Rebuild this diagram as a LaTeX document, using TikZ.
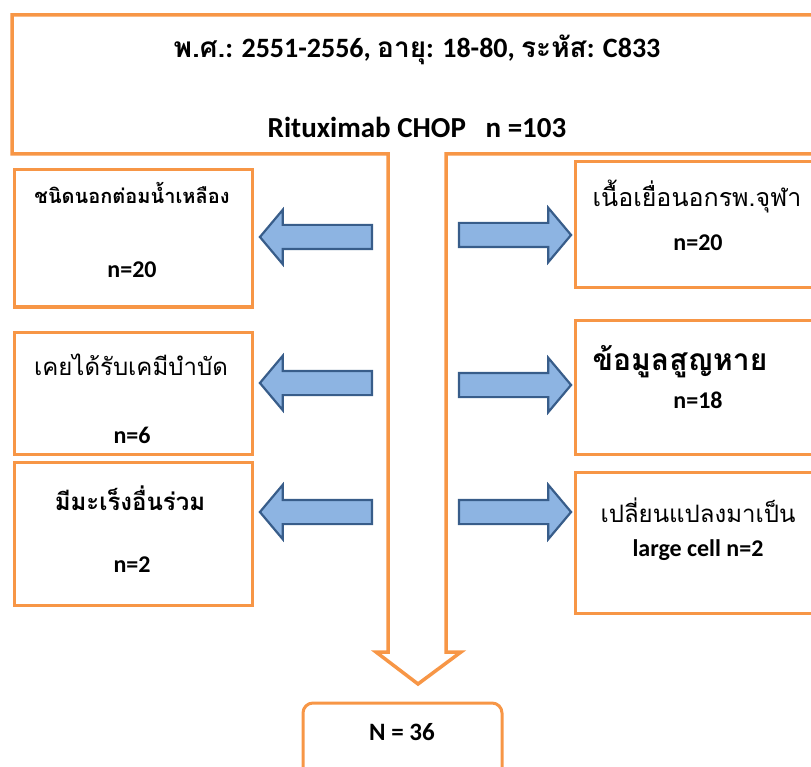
\documentclass[tikz,border=0pt]{standalone}
\usepackage{fontspec}
\setmainfont{Carlito}
\newfontfamily\thaifont[Script=Thai]{Loma}
\usetikzlibrary{shapes.arrows}

\definecolor{boxorange}{RGB}{247,150,70}
\definecolor{arrowfill}{RGB}{141,180,226}
\definecolor{arrowedge}{RGB}{56,93,138}

\tikzset{
  sidebox/.style={draw=boxorange, line width=3pt, inner sep=0pt},
  bluearrow/.style={single arrow, draw=arrowedge, fill=arrowfill, line width=2.2pt,
    inner xsep=0pt, inner ysep=11pt, minimum height=112pt,
    single arrow head extend=15pt, single arrow tip angle=100},
  thaitext/.style={font=\thaifont\fontsize{#1}{#1}\selectfont},
  thaibold/.style={font=\thaifont\bfseries\fontsize{#1}{#1}\selectfont},
  numtext/.style={font=\bfseries\fontsize{24}{28}\selectfont}
}

\begin{document}
\begin{tikzpicture}[x=1pt,y=-1pt]
\useasboundingbox (0,0) rectangle (811,767);

% outline: top box running down into the big arrow
\coordinate (TopL) at (12,15);
\coordinate (TopR) at (822,15);
\coordinate (BotR) at (822,154);
\coordinate (StemR) at (446,154);
\coordinate (HeadR) at (446,652);
\coordinate (WingR) at (461,652);
\coordinate (Tip) at (418,684);
\coordinate (WingL) at (376,652);
\coordinate (HeadL) at (388,652);
\coordinate (StemL) at (388,154);
\coordinate (BotL) at (12,154);
\draw[boxorange, line width=3.5pt, line join=miter]
  (TopL) -- (TopR) -- (BotR) -- (StemR) -- (HeadR) -- (WingR) -- (Tip)
  -- (WingL) -- (HeadL) -- (StemL) -- (BotL) -- cycle;

\node[font=\bfseries\fontsize{28}{32}\selectfont] (head) at (417,50)
  {{\thaifont พ.ศ.}: 2551-2556, {\thaifont อายุ}: 18-80, {\thaifont ระหัส}: C833};
\node[font=\bfseries\fontsize{29}{33}\selectfont] (total) at (417,127)
  {Rituximab CHOP \ \ n =103};

% excluded, left side
\node[sidebox, minimum width=238pt, minimum height=137pt] (exA) at (133,238.5) {};
\node[sidebox, minimum width=238pt, minimum height=122pt] (exB) at (133,393) {};
\node[sidebox, minimum width=238pt, minimum height=143pt] (exC) at (133,533.5) {};
\node[thaibold=20] (exAt) at (132,193) {ชนิดนอกต่อมน้ำเหลือง};
\node[numtext] (exAn) at (132,270) {n=20};
\node[thaitext=24] (exBt) at (131,365) {เคยได้รับเคมีบำบัด};
\node[numtext] (exBn) at (132,435) {n=6};
\node[thaibold=24] (exCt) at (130,498) {มีมะเร็งอื่นร่วม};
\node[numtext] (exCn) at (132,565) {n=2};

% excluded, right side
\node[sidebox, minimum width=245pt, minimum height=126pt] (exD) at (697.5,225) {};
\node[sidebox, minimum width=245pt, minimum height=134pt] (exE) at (697.5,387) {};
\node[sidebox, minimum width=245pt, minimum height=141pt] (exF) at (697.5,542.5) {};
\node[thaitext=25] (exDt) at (697,197) {เนื้อเยื่อนอกรพ.จุฬา};
\node[numtext] (exDn) at (698,243) {n=20};
\node[thaibold=30] (exEt) at (680,362) {ข้อมูลสูญหาย};
\node[numtext] (exEn) at (698,400) {n=18};
\node[thaitext=24] (exFt) at (698,510) {เปลี่ยนแปลงมาเป็น};
\node[numtext] (exFn) at (698,550) {large cell n=2};

% block arrows
\node[bluearrow, shape border rotate=180] (arA) at (321,237) {};
\node[bluearrow, shape border rotate=180] (arB) at (321,383) {};
\node[bluearrow, shape border rotate=180] (arC) at (321,512) {};
\node[bluearrow] (arD) at (510,235) {};
\node[bluearrow] (arE) at (510,385) {};
\node[bluearrow] (arF) at (510,512) {};

% final count
\node[draw=boxorange, line width=3pt, rounded corners=10pt,
  minimum width=199pt, minimum height=84pt] (final) at (402.5,745) {};
\node[font=\bfseries\fontsize{25}{29}\selectfont] (finalt) at (402,732) {N = 36};

\end{tikzpicture}
\end{document}
